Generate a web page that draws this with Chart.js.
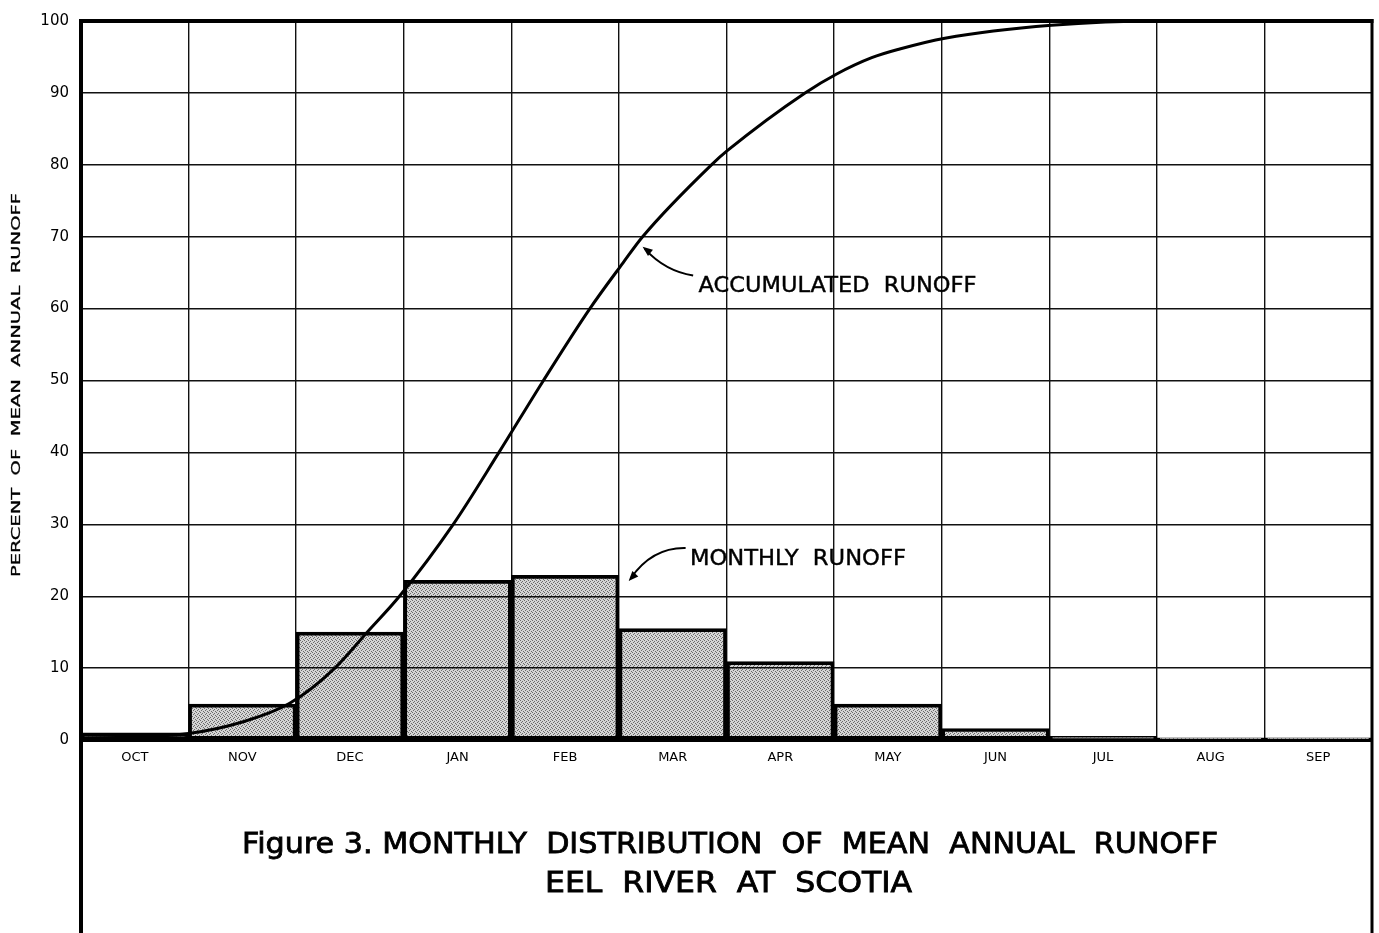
<!DOCTYPE html>
<html><head><meta charset="utf-8">
<script src="https://cdn.jsdelivr.net/npm/chart.js@4.4.1/dist/chart.umd.min.js"></script>
<style>html,body{margin:0;padding:0;background:#fff;}#wrap{width:1379px;height:933px;}</style>
</head><body><div id="wrap"><canvas id="c" width="1379" height="933"></canvas></div>
<script>
const months = ['OCT','NOV','DEC','JAN','FEB','MAR','APR','MAY','JUN','JUL','AUG','SEP'];
const monthlyRunoff = [1.0, 5.0, 15.0, 22.2, 22.9, 15.5, 10.9, 5.0, 1.6, 0.5, 0.3, 0.3];
const accumMonth   = [0, 1, 1.5, 1.94, 2.36, 2.66, 2.96, 3.46, 3.885, 4.29, 4.73, 5.04, 5.22, 5.86, 6.01, 6.73, 7.02, 7.35, 7.61, 8.03, 9.02, 10.03, 12];
const accumPercent = [0.2, 0.9, 2.5, 5.1, 10, 15, 20, 30, 40, 49.8, 60, 66.4, 70, 80, 82, 90, 92.6, 94.9, 96.1, 97.6, 99.4, 100, 100];
const yTicks = [0,10,20,30,40,50,60,70,80,90,100];
const titleLine1 = 'Figure 3. MONTHLY  DISTRIBUTION  OF  MEAN  ANNUAL  RUNOFF';
const titleLine2 = 'EEL  RIVER  AT  SCOTIA';
const yTitle = 'PERCENT  OF  MEAN  ANNUAL  RUNOFF';
const accumLabel = 'ACCUMULATED  RUNOFF';
const monthlyLabel = 'MONTHLY  RUNOFF';

const canvas = document.getElementById('c');
const mainCtx = canvas.getContext('2d');
function stipple(){
  const c = document.createElement('canvas'); c.width = 4; c.height = 4;
  const g = c.getContext('2d');
  g.fillStyle = 'rgba(0,0,0,0.17)'; g.fillRect(0,0,4,4);
  g.fillStyle = 'rgba(0,0,0,0.5)';
  [[0,0],[2,1],[1,2],[3,3]].forEach(([x,y]) => g.fillRect(x,y,1,1));
  return mainCtx.createPattern(c, 'repeat');
}

function fitText(ctx, text, x, y, targetW, font, heavy){
  ctx.font = font;
  const w = ctx.measureText(text).width;
  ctx.save();
  ctx.translate(x, y);
  ctx.scale(targetW / w, 1);
  ctx.textAlign = 'left';
  ctx.textBaseline = 'alphabetic';
  ctx.fillText(text, 0, 0);
  if (heavy) { ctx.lineWidth = heavy; ctx.strokeStyle = ctx.fillStyle; ctx.strokeText(text, 0, 0); }
  ctx.restore();
}

function arrowHead(ctx, tipX, tipY, fromX, fromY, len, half){
  const ang = Math.atan2(tipY - fromY, tipX - fromX);
  ctx.beginPath();
  ctx.moveTo(tipX, tipY);
  ctx.lineTo(tipX - len*Math.cos(ang) + half*Math.sin(ang), tipY - len*Math.sin(ang) - half*Math.cos(ang));
  ctx.lineTo(tipX - len*Math.cos(ang) - half*Math.sin(ang), tipY - len*Math.sin(ang) + half*Math.cos(ang));
  ctx.closePath();
  ctx.fill();
}

const framePlugin = {
  id: 'frame',
  afterDatasetsDraw(chart){
    const {ctx, chartArea: a, scales} = chart;
    const H = chart.height;
    const px = v => scales.x2.getPixelForValue(v);
    const py = v => scales.y.getPixelForValue(v);
    ctx.save();
    ctx.strokeStyle = '#000'; ctx.fillStyle = '#000';
    // frame
    ctx.lineWidth = 4;
    ctx.beginPath(); ctx.moveTo(a.left - 2, a.top); ctx.lineTo(a.right + 1.5, a.top); ctx.stroke();
    ctx.beginPath(); ctx.moveTo(a.left, a.top - 2); ctx.lineTo(a.left, H); ctx.stroke();
    ctx.lineWidth = 3;
    ctx.beginPath(); ctx.moveTo(a.right, a.top - 2); ctx.lineTo(a.right, H); ctx.stroke();

    // annotations
    ctx.lineWidth = 2;
    let sx = px(5.69), sy = py(64.6), cx = px(5.43), cy = py(65.2), tx = px(5.24), ty = py(68.3);
    ctx.beginPath(); ctx.moveTo(sx, sy); ctx.quadraticCurveTo(cx, cy, tx, ty); ctx.stroke();
    arrowHead(ctx, px(5.22), py(68.6), cx - 4, cy - 10, 10, 4);
    fitText(ctx, accumLabel, px(5.74), py(62.3), 278, '21px "DejaVu Sans"', 0.4);
    sx = px(5.62); sy = py(26.7); cx = px(5.31); cy = py(26.8); tx = px(5.11); ty = py(22.5);
    ctx.beginPath(); ctx.moveTo(sx, sy); ctx.quadraticCurveTo(cx, cy, tx, ty); ctx.stroke();
    arrowHead(ctx, px(5.09), py(22.1), cx - 2, cy + 10, 10, 4);
    fitText(ctx, monthlyLabel, px(5.66), py(24.3), 216, '21px "DejaVu Sans"', 0.4);

    // figure title
    fitText(ctx, titleLine1, 242, 853, 976, '28px "DejaVu Sans"', 0.8);
    fitText(ctx, titleLine2, 545, 892, 367, '28px "DejaVu Sans"', 0.8);

    // y axis title
    ctx.save();
    ctx.translate(20, 385);
    ctx.rotate(-Math.PI/2);
    fitText(ctx, yTitle, -192, 0, 384, '13px "DejaVu Sans"', 0.3);
    ctx.restore();
    ctx.restore();
  }
};

new Chart(canvas, {
  type: 'bar',
  data: {
    labels: months,
    datasets: [
      {
        type: 'line',
        label: 'Accumulated runoff',
        data: accumMonth.map((m, i) => ({x: m, y: accumPercent[i]})),
        xAxisID: 'x2', yAxisID: 'y',
        borderColor: '#000', borderWidth: 3,
        pointRadius: 0, cubicInterpolationMode: 'monotone',
        fill: false, order: 0, clip: false
      },
      {
        type: 'bar',
        label: 'Monthly runoff',
        data: monthlyRunoff,
        xAxisID: 'x', yAxisID: 'y',
        backgroundColor: stipple(),
        borderColor: '#000', borderWidth: 3, borderSkipped: false,
        barPercentage: 1, categoryPercentage: 1, grouped: false, order: 1
      }
    ]
  },
  options: {
    responsive: false, animation: false, devicePixelRatio: 1,
    layout: {padding: {top: 16, right: 7, left: 0, bottom: 0}},
    plugins: {legend: {display: false}, tooltip: {enabled: false}, title: {display: false}},
    scales: {
      x: {
        type: 'category', offset: true,
        grid: {offset: true, color: '#111', lineWidth: 1.4, drawTicks: false},
        border: {display: true, color: '#000', width: 3},
        ticks: {color: '#000', font: {family: 'DejaVu Sans', size: 13}, padding: 10},
        afterFit(s){ s.height = 193; }
      },
      x2: {type: 'linear', min: 0, max: 12, display: false, offset: false, grid: {offset: false}},
      y: {
        min: 0, max: 100,
        afterBuildTicks(s){ s.ticks = yTicks.map(v => ({value: v})); },
        grid: {color: '#111', lineWidth: 1.4, drawTicks: false},
        border: {display: true, color: '#000', width: 4},
        ticks: {color: '#000', font: {family: 'DejaVu Sans', size: 15}, padding: 12},
        afterFit(s){ s.width = 81; }
      }
    }
  },
  plugins: [framePlugin]
});
</script>
</body></html>
